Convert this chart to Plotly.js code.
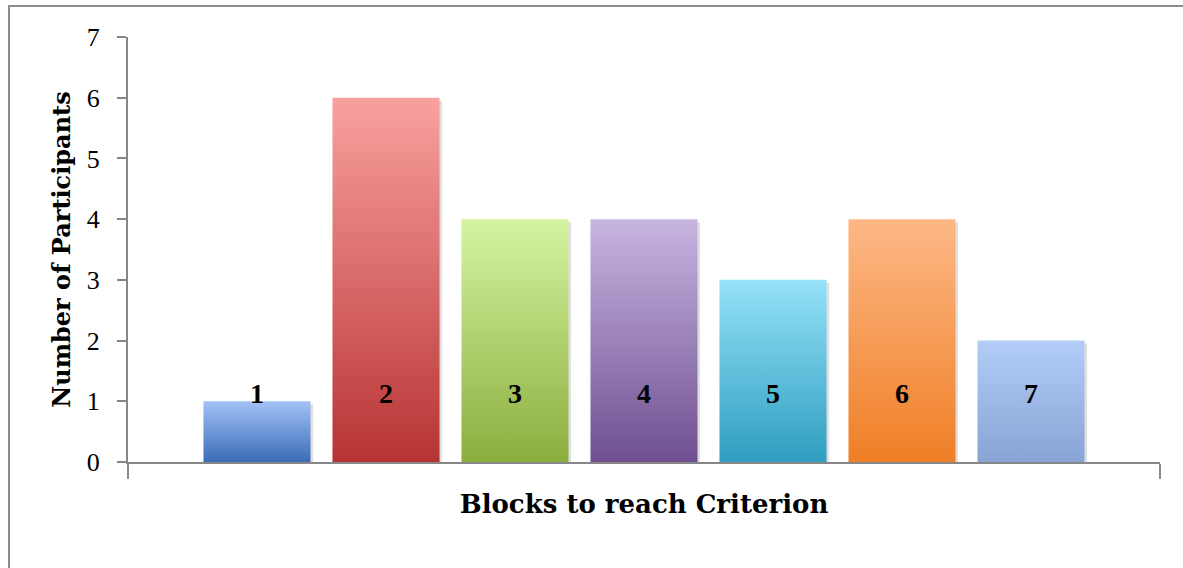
<!DOCTYPE html>
<html>
<head>
<meta charset="utf-8">
<script src="https://cdn.plot.ly/plotly-3.0.1.min.js"></script>
<style>
  html, body { margin: 0; padding: 0; background: #ffffff; }
  #chart { width: 1183px; height: 568px; }
</style>
</head>
<body>
<div id="chart"></div>
<script>
// ---- data ----
const categories = ['1', '2', '3', '4', '5', '6', '7'];
const participants = [1, 6, 4, 4, 3, 4, 2];
const yTickVals = [0, 1, 2, 3, 4, 5, 6, 7];

// ---- styles ----
const topColors = ['#a3c2f7', '#f9a19f', '#d5f4a2', '#c7b5e1', '#95e1f8', '#fdb886', '#b3cdf8'];
const bottomColors = ['#3a6cb6', '#b73333', '#8cae3e', '#6f4f90', '#2f9ec0', '#ef7f26', '#88a4d5'];
const serif = 'Liberation Serif, Times New Roman, serif';
const titleSerif = 'DejaVu Serif, serif';
const halfWidth = 0.415;
const labelLevel = 1.08;

const traces = [];
// soft shadow under each bar
traces.push({
  type: 'bar',
  x: categories.map((c, i) => i + 1.02),
  y: participants,
  base: participants.map(() => -0.05),
  width: halfWidth * 2,
  marker: { color: 'rgba(0,0,0,0.12)', line: { width: 0 } },
  hoverinfo: 'skip',
  showlegend: false
});
categories.forEach((c, i) => {
  const xc = i + 1;
  const v = participants[i];
  traces.push({
    type: 'scatter',
    mode: 'lines',
    x: [xc - halfWidth, xc - halfWidth, xc + halfWidth, xc + halfWidth, xc - halfWidth],
    y: [0, v, v, 0, 0],
    fill: 'toself',
    fillgradient: {
      type: 'vertical',
      colorscale: [[0, bottomColors[i]], [1, topColors[i]]]
    },
    line: { width: 0, color: 'rgba(0,0,0,0)' },
    hoverinfo: 'skip',
    showlegend: false
  });
});

traces.push({
  type: 'scatter',
  mode: 'text',
  x: categories.map((c, i) => i + 1),
  y: categories.map(() => labelLevel),
  text: categories,
  textposition: 'middle center',
  textfont: { family: serif, size: 28, color: '#000000', weight: 'bold' },
  hoverinfo: 'skip',
  showlegend: false
});

const layout = {
  width: 1183,
  height: 568,
  margin: { l: 128, r: 23, t: 37, b: 106 },
  paper_bgcolor: '#ffffff',
  plot_bgcolor: '#ffffff',
  showlegend: false,
  xaxis: {
    range: [0, 8],
    showgrid: false,
    zeroline: false,
    showline: true,
    linecolor: '#878787',
    linewidth: 2,
    ticks: 'outside',
    tickvals: [0, 8],
    ticklen: 15,
    tickwidth: 2,
    tickcolor: '#878787',
    showticklabels: false,
    fixedrange: true,
    title: {
      text: 'Blocks to reach Criterion',
      font: { family: titleSerif, size: 26, color: '#000000', weight: 'bold' },
      standoff: 17
    }
  },
  yaxis: {
    range: [0, 7],
    tickvals: yTickVals,
    showgrid: false,
    zeroline: false,
    showline: true,
    linecolor: '#878787',
    linewidth: 2,
    ticks: 'outside',
    ticklen: 9,
    tickwidth: 2,
    tickcolor: '#878787',
    ticklabelstandoff: 12,
    tickfont: { family: serif, size: 26, color: '#000000' },
    fixedrange: true,
    title: {
      text: 'Number of Participants',
      font: { family: titleSerif, size: 24, color: '#000000', weight: 'bold' },
      standoff: 9
    }
  },
  shapes: [
    {
      type: 'rect', xref: 'paper', yref: 'paper',
      x0: -0.1153, x1: 1.05, y0: -0.3, y1: 1.0729,
      line: { color: '#8c8c8c', width: 2 },
      fillcolor: 'rgba(0,0,0,0)',
      layer: 'below'
    }
  ]
};

Plotly.newPlot('chart', traces, layout, { displayModeBar: false, staticPlot: true });
</script>
</body>
</html>
